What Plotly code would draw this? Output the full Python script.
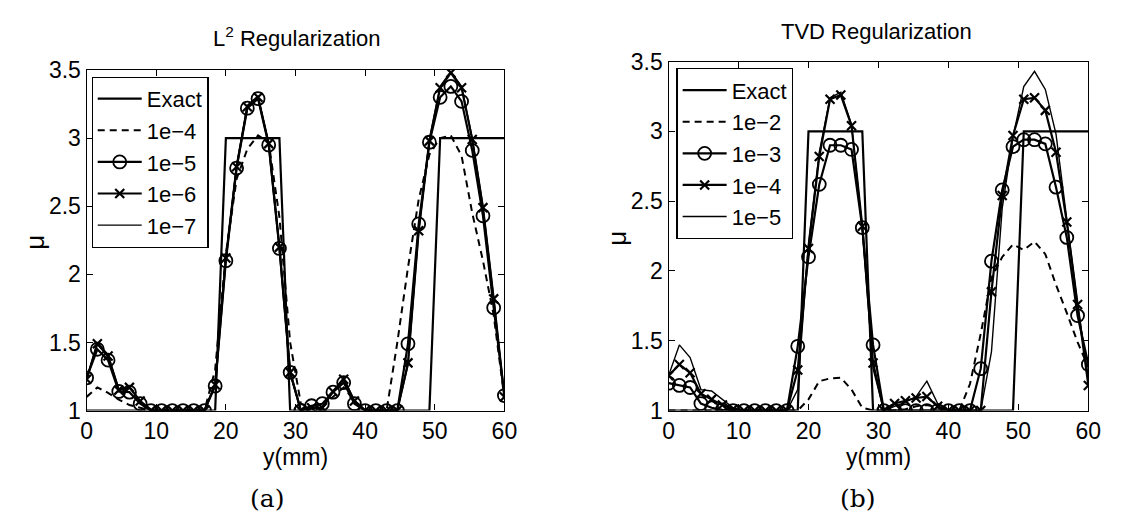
import plotly.graph_objects as go

W, H = 1121, 531

# ---- data ----
y_mm = [0.0, 1.54, 3.08, 4.62, 6.15, 7.69, 9.23, 10.77, 12.31, 13.85, 15.38, 16.92,
        18.46, 20.0, 21.54, 23.08, 24.62, 26.15, 27.69, 29.23, 30.77, 32.31, 33.85,
        35.38, 36.92, 38.46, 40.0, 41.54, 43.08, 44.62, 46.15, 47.69, 49.23, 50.77,
        52.31, 53.85, 55.38, 56.92, 58.46, 60.0]

exact = [1, 1, 1, 1, 1, 1, 1, 1, 1, 1, 1, 1, 1,
         3, 3, 3, 3, 3, 3,
         1, 1, 1, 1, 1, 1, 1, 1, 1, 1, 1, 1, 1, 1,
         3, 3, 3, 3, 3, 3, 3]

l2_1e4 = [1.10, 1.17, 1.13, 1.08, 1.04, 1.02, 1.0, 1.0, 1.0, 1.0, 1.0, 1.0, 1.30, 2.15,
          2.70, 2.92, 3.02, 2.97, 2.42, 1.50, 1.05, 1.02, 1.03, 1.10, 1.17, 1.07, 1.01,
          1.0, 1.0, 1.50, 2.05, 2.55, 2.88, 3.00, 3.02, 2.87, 2.45, 2.10, 1.70, 1.09]
l2_1e5 = [1.24, 1.45, 1.37, 1.14, 1.135, 1.05, 1.0, 1.0, 1.0, 1.0, 1.0, 1.0, 1.18, 2.10,
          2.78, 3.22, 3.29, 2.95, 2.19, 1.28, 1.0, 1.035, 1.05, 1.135, 1.205, 1.05, 1.0,
          1.0, 1.0, 1.0, 1.49, 2.37, 2.97, 3.30, 3.38, 3.27, 2.91, 2.43, 1.755, 1.11]
l2_1e6 = [1.23, 1.49, 1.40, 1.15, 1.17, 1.07, 1.0, 1.0, 1.0, 1.0, 1.0, 1.0, 1.19, 2.12,
          2.79, 3.23, 3.30, 2.96, 2.20, 1.28, 1.0, 1.02, 1.02, 1.14, 1.23, 1.07, 1.0,
          1.0, 1.0, 1.0, 1.35, 2.32, 2.98, 3.37, 3.48, 3.37, 2.99, 2.49, 1.82, 1.10]
l2_1e7 = [1.23, 1.50, 1.41, 1.16, 1.17, 1.07, 1.01, 1.0, 1.0, 1.0, 1.0, 1.0, 1.19, 2.13,
          2.80, 3.24, 3.31, 2.96, 2.20, 1.27, 1.0, 1.02, 1.02, 1.14, 1.24, 1.07, 1.0,
          1.0, 1.0, 1.0, 1.33, 2.31, 2.99, 3.38, 3.49, 3.38, 3.00, 2.50, 1.83, 1.10]

tv_1e2 = [1.0, 1.0, 1.0, 1.0, 1.0, 1.0, 1.0, 1.0, 1.0, 1.0, 1.0, 1.0, 1.0, 1.08,
          1.21, 1.23, 1.235, 1.15, 1.02, 1.0, 1.0, 1.0, 1.01, 1.03, 1.04, 1.02, 1.0,
          1.0, 1.19, 1.55, 1.95, 2.10, 2.19, 2.15, 2.21, 2.12, 1.90, 1.70, 1.49, 1.31]
tv_1e3 = [1.196, 1.18, 1.165, 1.05, 1.02, 1.005, 1.0, 1.0, 1.0, 1.0, 1.0, 1.0, 1.46,
          2.10, 2.62, 2.90, 2.90, 2.87, 2.31, 1.47, 1.0, 1.0, 1.0, 1.0, 1.0, 1.0, 1.0,
          1.0, 1.0, 1.30, 2.07, 2.58, 2.89, 2.94, 2.94, 2.91, 2.60, 2.24, 1.68, 1.33]
tv_1e4 = [1.25, 1.33, 1.27, 1.12, 1.08, 1.04, 1.01, 1.0, 1.0, 1.0, 1.0, 1.0, 1.29, 2.16,
          2.82, 3.23, 3.26, 3.04, 2.32, 1.34, 1.0, 1.05, 1.07, 1.09, 1.10, 1.03, 1.0,
          1.0, 1.0, 1.0, 1.85, 2.54, 2.97, 3.23, 3.24, 3.15, 2.85, 2.35, 1.76, 1.18]
tv_1e5 = [1.25, 1.47, 1.38, 1.15, 1.14, 1.08, 1.02, 1.0, 1.0, 1.0, 1.0, 1.0, 1.15, 2.20,
          2.85, 3.24, 3.28, 3.05, 2.30, 1.30, 1.0, 1.03, 1.06, 1.10, 1.21, 1.05, 1.0,
          1.0, 1.0, 1.0, 1.42, 2.45, 2.96, 3.32, 3.43, 3.30, 2.98, 2.37, 1.76, 1.24]

left_names = ["Exact", "1e\u22124", "1e\u22125", "1e\u22126", "1e\u22127"]
right_names = ["Exact", "1e\u22122", "1e\u22123", "1e\u22124", "1e\u22125"]
x_ticks = [0, 10, 20, 30, 40, 50, 60]
y_ticks = [1, 1.5, 2, 2.5, 3, 3.5]

FONT = "Liberation Sans, Arial, sans-serif"
styles = [
    dict(mode="lines", line=dict(color="black", width=2.2)),
    dict(mode="lines", line=dict(color="black", width=2, dash="7px,5px")),
    dict(mode="lines+markers", line=dict(color="black", width=2.2),
         marker=dict(symbol="circle-open", size=13, color="black",
                     line=dict(width=1.8, color="black"))),
    dict(mode="lines+markers", line=dict(color="black", width=2.2),
         marker=dict(symbol="x-thin-open", size=9, color="black",
                     line=dict(width=2.2, color="black"))),
    dict(mode="lines", line=dict(color="black", width=1.4)),
]

fig = go.Figure()
left_series = [exact, l2_1e4, l2_1e5, l2_1e6, l2_1e7]
right_series = [exact, tv_1e2, tv_1e3, tv_1e4, tv_1e5]
for name, ys, st in zip(left_names, left_series, styles):
    fig.add_trace(go.Scatter(x=y_mm, y=ys, name=name, xaxis="x", yaxis="y",
                             legend="legend", **st))
for name, ys, st in zip(right_names, right_series, styles):
    fig.add_trace(go.Scatter(x=y_mm, y=ys, name=name, xaxis="x2", yaxis="y2",
                             legend="legend2", **st))


def px(x):
    return x / W


def py(y):
    return 1 - y / H


axis_common = dict(showline=True, linecolor="black", linewidth=1.3, mirror="ticks",
                   ticks="inside", ticklen=6, tickcolor="black", tickwidth=1,
                   showgrid=False, zeroline=False,
                   tickfont=dict(family=FONT, size=23, color="black"))

L = dict(x0=82, x1=507, y0=60, y1=418)
R = dict(x0=674, x1=1101, y0=51, y1=418)

legend_common = dict(bgcolor="white", bordercolor="black", borderwidth=1.2,
                     font=dict(family=FONT, size=22, color="black"),
                     itemwidth=44, xanchor="left", yanchor="top",
                     itemclick=False, traceorder="normal")

fig.update_layout(
    width=W, height=H, margin=dict(l=0, r=0, t=0, b=0),
    paper_bgcolor="white", plot_bgcolor="white",
    xaxis=dict(domain=[px(L["x0"]), px(L["x1"])], range=[0, 60], tickvals=x_ticks,
               anchor="y", **axis_common),
    yaxis=dict(domain=[py(L["y1"]), py(L["y0"])], range=[1, 3.5], tickvals=y_ticks,
               anchor="x", **axis_common),
    xaxis2=dict(domain=[px(R["x0"]), px(R["x1"])], range=[0, 60], tickvals=x_ticks,
                anchor="y2", **axis_common),
    yaxis2=dict(domain=[py(R["y1"]), py(R["y0"])], range=[1, 3.5], tickvals=y_ticks,
                anchor="x2", **axis_common),
    legend=dict(x=px(87), y=py(67), **legend_common),
    legend2=dict(x=px(682), y=py(58), **legend_common),
    showlegend=True,
)

ann = []
tfont = dict(family=FONT, size=22, color="black")
ann.append(dict(text="L<sup>2</sup> Regularization", x=px(296), y=py(25), xref="paper",
                yref="paper", showarrow=False, font=tfont, xanchor="center", yanchor="middle"))
ann.append(dict(text="TVD Regularization", x=px(886), y=py(19), xref="paper",
                yref="paper", showarrow=False, font=tfont, xanchor="center", yanchor="middle"))
afont = dict(family=FONT, size=23, color="black")
for cx in [(L["x0"] + L["x1"]) / 2, (R["x0"] + R["x1"]) / 2]:
    ann.append(dict(text="y(mm)", x=px(cx), y=py(467), xref="paper", yref="paper",
                    showarrow=False, font=afont, xanchor="center", yanchor="middle"))
ann.append(dict(text="\u03bc", x=px(30), y=py(241), xref="paper", yref="paper",
                showarrow=False, font=dict(family=FONT, size=26, color="black"),
                textangle=-90, xanchor="center", yanchor="middle"))
ann.append(dict(text="\u03bc", x=px(622), y=py(237), xref="paper", yref="paper",
                showarrow=False, font=dict(family=FONT, size=26, color="black"),
                textangle=-90, xanchor="center", yanchor="middle"))
sfont = dict(family="DejaVu Serif, serif", size=25, color="black")
ann.append(dict(text="(a)", x=px(266), y=py(511), xref="paper", yref="paper",
                showarrow=False, font=sfont, xanchor="center", yanchor="middle"))
ann.append(dict(text="(b)", x=px(867), y=py(511), xref="paper", yref="paper",
                showarrow=False, font=sfont, xanchor="center", yanchor="middle"))
fig.update_layout(annotations=ann)

fig.write_html("out.html")
